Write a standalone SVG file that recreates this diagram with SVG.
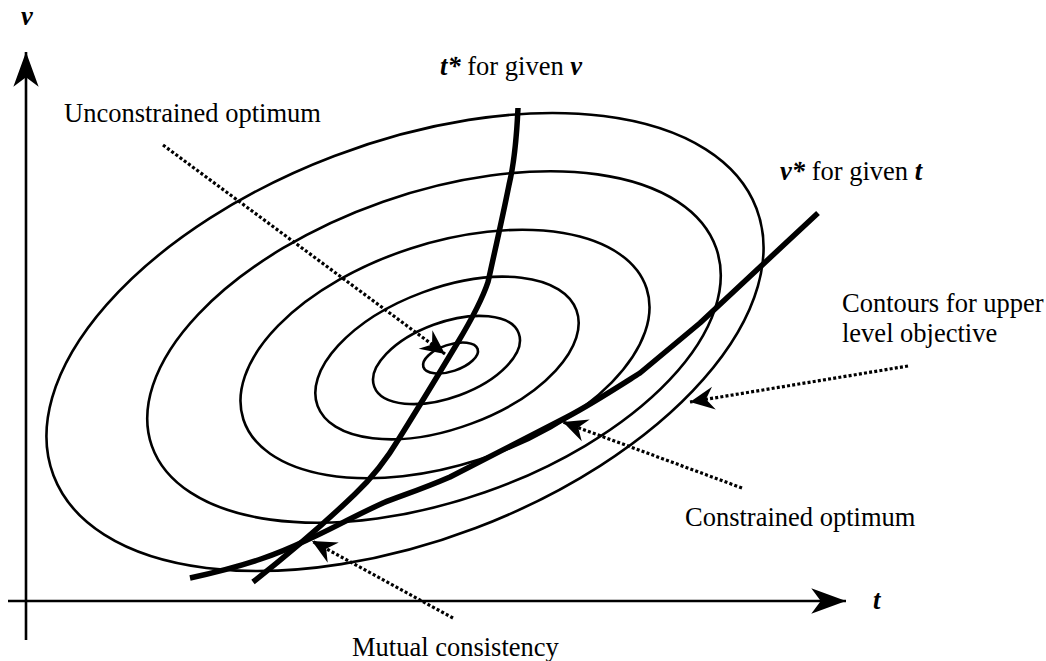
<svg xmlns="http://www.w3.org/2000/svg" width="1046" height="661" viewBox="0 0 1046 661">
<style>
.bg{fill:#fff}
.contour{fill:none;stroke:#000;stroke-width:2.6}
.thick{fill:none;stroke:#000;stroke-width:5.5;stroke-linejoin:round;stroke-linecap:butt}
.axis{fill:none;stroke:#000;stroke-width:2.6}
.leader{fill:none;stroke:#000;stroke-width:3.2;stroke-dasharray:3 2.2}
.lbl{font-family:"Liberation Serif","Times New Roman",serif;font-size:26.5px;fill:#000}
.bi{font-weight:bold;font-style:italic}
</style>
<defs>
<marker id="ah" markerUnits="userSpaceOnUse" markerWidth="30" markerHeight="30" viewBox="-24 -12 26 24" refX="0" refY="0" orient="auto">
<path d="M0,0 L-21,-10 L-14,0 L-21,10 Z" fill="#000"/>
</marker>
<marker id="axh" markerUnits="userSpaceOnUse" markerWidth="40" markerHeight="40" viewBox="-36 -16 38 32" refX="0" refY="0" orient="auto">
<path d="M0,0 L-33,-12 L-24,0 L-33,12 Z" fill="#000"/>
</marker>
</defs>
<rect class="bg" x="0" y="0" width="1046" height="661"/>

<g id="axes">
<path class="axis" d="M26,640 L26,52" marker-end="url(#axh)"/>
<path class="axis" d="M8,601 L846,601" marker-end="url(#axh)"/>
</g>

<g id="contours">
<ellipse class="contour" cx="450.5" cy="358" rx="28.6" ry="13.3" transform="rotate(-18.4 450.5 358)"/>
<ellipse class="contour" cx="446.5" cy="360" rx="77" ry="37.5" transform="rotate(-20.2 446.5 360)"/>
<ellipse class="contour" cx="447" cy="358" rx="138" ry="70" transform="rotate(-20.3 447 358)"/>
<ellipse class="contour" cx="445" cy="354" rx="212" ry="111" transform="rotate(-18 445 354)"/>
<ellipse class="contour" cx="434" cy="347" rx="299" ry="154" transform="rotate(-19.3 434 347)"/>
<ellipse class="contour" cx="405" cy="342" rx="376" ry="199" transform="rotate(-20.8 405 342)"/>
</g>

<g id="t-star-curve">
<path class="thick" d="M518,108 C517,130 515,160 509,185 C503,215 494,255 488,282 C482,300 470,322 458,342 C440,372 420,405 400,437 C385,462 372,478 355,494 C330,518 300,545 253,582"/>
</g>
<g id="v-star-curve">
<path class="thick" d="M818,213 L700,323 L640,373 C610,392 590,405 567,417 L450,477 C420,490 400,496 383,503 C350,518 330,530 307,540 C280,553 250,565 190,578"/>
</g>

<g id="connectors">
<path class="leader" d="M163,145 L445,354" marker-end="url(#ah)"/>
<path class="leader" d="M908,366 L690,402" marker-end="url(#ah)"/>
<path class="leader" d="M742,488 L563,422" marker-end="url(#ah)"/>
<path class="leader" d="M453,618 L312,541" marker-end="url(#ah)"/>
</g>

<g id="labels">
<text class="lbl bi" x="21" y="25">v</text>
<text class="lbl" x="873" y="609"><tspan class="bi">t</tspan></text>
<text class="lbl" x="440" y="75"><tspan class="bi">t</tspan><tspan class="bi">*</tspan> for given <tspan class="bi">v</tspan></text>
<text class="lbl" x="64" y="122">Unconstrained optimum</text>
<text class="lbl" x="780" y="180"><tspan class="bi">v</tspan><tspan class="bi">*</tspan> for given <tspan class="bi">t</tspan></text>
<text class="lbl" x="842" y="312">Contours for upper</text>
<text class="lbl" x="842" y="342">level objective</text>
<text class="lbl" x="685" y="526">Constrained optimum</text>
<text class="lbl" x="352" y="656">Mutual consistency</text>
</g>
</svg>
